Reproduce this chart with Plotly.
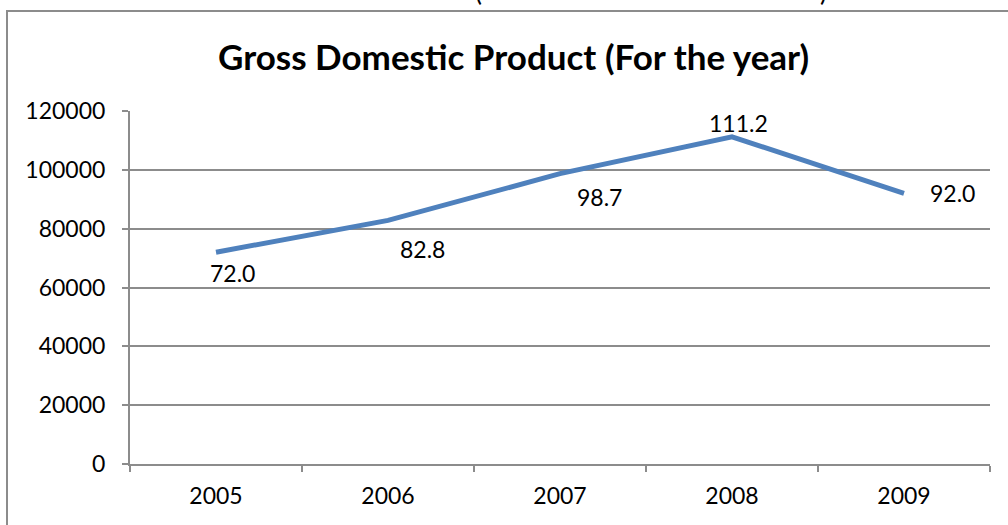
import plotly.graph_objects as go

years = ["2005", "2006", "2007", "2008", "2009"]
gdp = [72000, 82800, 98700, 111200, 92000]
label_text = ["72.0", "82.8", "98.7", "111.2", "92.0"]
y_ticks = [0, 20000, 40000, 60000, 80000, 100000, 120000]

# label placement offsets (px) for each data label
label_dx = [16, 34, 39, 6, 48]
label_dy = [-21, -29, -23, 14, 0]

W, H = 1008, 525
L, R, T, B = 130, 18, 111, 61
pw, ph = W - L - R, H - T - B

def px_x(p):
    return (p - L) / pw

def px_y(p):
    return (H - B - p) / ph

FONT = "Lato, 'Liberation Sans', sans-serif"
GRAY = "#8c8c8c"

fig = go.Figure()
fig.add_trace(go.Scatter(
    x=years, y=gdp, mode="lines",
    line=dict(color="#4F81BD", width=5),
    hoverinfo="x+y", showlegend=False,
))

annotations = []
for i, (yv, t, dx, dy) in enumerate(zip(gdp, label_text, label_dx, label_dy)):
    annotations.append(dict(
        x=i, y=yv, xref="x", yref="y", text=t, showarrow=False,
        xshift=dx, yshift=dy, font=dict(family=FONT, size=23, color="#000"),
    ))

annotations.append(dict(
    x=px_x(513), y=px_y(56), xref="paper", yref="paper",
    text="<b>Gross Domestic Product (For the year)</b>", showarrow=False,
    font=dict(family=FONT, size=35, color="#000"),
    xanchor="center", yanchor="middle",
))
# cut-off heading above the chart frame
annotations.append(dict(
    x=px_x(478), y=px_y(9), xref="paper", yref="paper", text="(",
    showarrow=False, font=dict(family=FONT, size=26, color="#000"),
    xanchor="center", yanchor="bottom",
))
annotations.append(dict(
    x=px_x(823), y=px_y(9), xref="paper", yref="paper", text=")",
    showarrow=False, font=dict(family=FONT, size=26, color="#000"),
    xanchor="center", yanchor="bottom",
))

fig.update_layout(
    width=W, height=H,
    margin=dict(l=L, r=R, t=T, b=B),
    paper_bgcolor="white", plot_bgcolor="white",
    font=dict(family=FONT, size=23, color="#000"),
    annotations=annotations,
    shapes=[dict(
        type="rect", xref="paper", yref="paper",
        x0=px_x(7), x1=px_x(1030), y0=px_y(560), y1=px_y(11),
        line=dict(color=GRAY, width=2), fillcolor="rgba(0,0,0,0)", layer="above",
    )],
)
fig.update_xaxes(
    type="category", tickson="boundaries", ticks="outside", ticklen=6,
    tickcolor=GRAY, tickwidth=2, showline=True, linecolor=GRAY, linewidth=2,
    showgrid=False, range=[-0.5, 4.5], ticklabelstandoff=10,
    tickfont=dict(family=FONT, size=23, color="#000"),
)
fig.update_yaxes(
    range=[0, 120000], tickvals=y_ticks, ticktext=[str(v) for v in y_ticks],
    ticks="outside", ticklen=6, tickcolor=GRAY, tickwidth=2,
    showline=True, linecolor=GRAY, linewidth=2,
    showgrid=True, gridcolor=GRAY, gridwidth=2, zeroline=False,
    ticklabelstandoff=12,
    tickfont=dict(family=FONT, size=23, color="#000"),
)

fig.write_html("out.html", config={"displayModeBar": False},
               post_script="document.body.style.margin='0';")
